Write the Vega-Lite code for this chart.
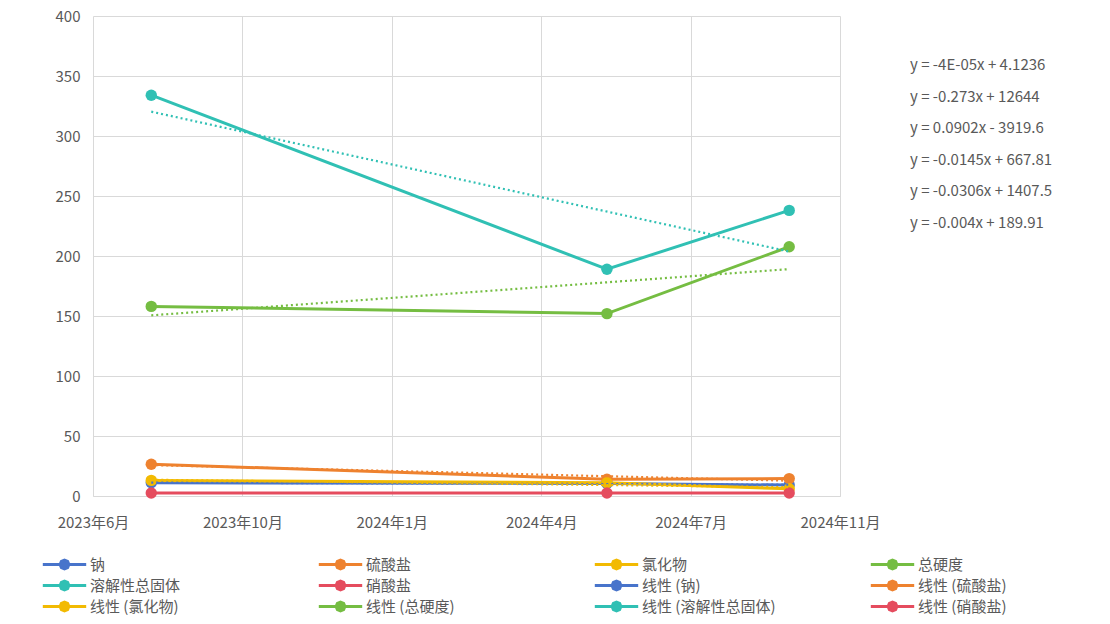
{
  "$schema": "https://vega.github.io/schema/vega-lite/v6.json",
  "width": 747,
  "height": 480,
  "autosize": {"type": "none"},
  "padding": {"left": 93, "top": 16, "right": 270, "bottom": 128},
  "background": "white",
  "title": {
    "text": ["y = -4E-05x + 4.1236", "y = -0.273x + 12644", "y = 0.0902x - 3919.6", "y = -0.0145x + 667.81", "y = -0.0306x + 1407.5", "y = -0.004x + 189.91"],
    "orient": "top", "anchor": "end", "frame": "group", "align": "left", "baseline": "top",
    "dx": 70, "dy": 222, "offset": 0, "lineHeight": 31.6,
    "font": "Noto Sans CJK SC", "fontSize": 15, "fontWeight": "normal", "color": "#595959"
  },
  "config": {
    "view": {"stroke": null},
    "font": "Noto Sans CJK SC",
    "axis": {"labelFont": "Noto Sans CJK SC", "labelFontSize": 15, "labelColor": "#595959", "gridColor": "#D9D9D9", "gridWidth": 1, "ticks": false, "title": null},
    "legend": {"labelFont": "Noto Sans CJK SC", "labelColor": "#595959", "title": null}
  },
  "data": {
    "values": [
      {"date": "2023-08-01", "series": "钠", "trend": "线性 (钠)", "value": 11},
      {"date": "2024-06-01", "series": "钠", "trend": "线性 (钠)", "value": 10.5},
      {"date": "2024-10-01", "series": "钠", "trend": "线性 (钠)", "value": 9.07},
      {"date": "2023-08-01", "series": "硫酸盐", "trend": "线性 (硫酸盐)", "value": 26.5},
      {"date": "2024-06-01", "series": "硫酸盐", "trend": "线性 (硫酸盐)", "value": 14},
      {"date": "2024-10-01", "series": "硫酸盐", "trend": "线性 (硫酸盐)", "value": 14.5},
      {"date": "2023-08-01", "series": "氯化物", "trend": "线性 (氯化物)", "value": 13},
      {"date": "2024-06-01", "series": "氯化物", "trend": "线性 (氯化物)", "value": 11},
      {"date": "2024-10-01", "series": "氯化物", "trend": "线性 (氯化物)", "value": 6},
      {"date": "2023-08-01", "series": "总硬度", "trend": "线性 (总硬度)", "value": 158},
      {"date": "2024-06-01", "series": "总硬度", "trend": "线性 (总硬度)", "value": 152},
      {"date": "2024-10-01", "series": "总硬度", "trend": "线性 (总硬度)", "value": 207.7},
      {"date": "2023-08-01", "series": "溶解性总固体", "trend": "线性 (溶解性总固体)", "value": 334},
      {"date": "2024-06-01", "series": "溶解性总固体", "trend": "线性 (溶解性总固体)", "value": 189},
      {"date": "2024-10-01", "series": "溶解性总固体", "trend": "线性 (溶解性总固体)", "value": 238},
      {"date": "2023-08-01", "series": "硝酸盐", "trend": "线性 (硝酸盐)", "value": 2.5},
      {"date": "2024-06-01", "series": "硝酸盐", "trend": "线性 (硝酸盐)", "value": 2.5},
      {"date": "2024-10-01", "series": "硝酸盐", "trend": "线性 (硝酸盐)", "value": 2.48}
    ]
  },
  "encoding": {
    "x": {
      "field": "date", "type": "temporal",
      "scale": {"type": "utc", "domain": [{"year": 2023, "month": 6, "date": 23, "utc": true}, {"year": 2024, "month": 11, "date": 4, "utc": true}]},
      "axis": {
        "values": [
          {"year": 2023, "month": 6, "date": 23, "utc": true},
          {"year": 2023, "month": 10, "date": 1, "utc": true},
          {"year": 2024, "month": 1, "date": 9, "utc": true},
          {"year": 2024, "month": 4, "date": 18, "utc": true},
          {"year": 2024, "month": 7, "date": 27, "utc": true},
          {"year": 2024, "month": 11, "date": 4, "utc": true}
        ],
        "format": "%Y年%-m月", "domainColor": "#D9D9D9", "labelPadding": 19, "labelFlush": false, "labelOverlap": false
      }
    },
    "y": {
      "field": "value", "type": "quantitative",
      "scale": {"domain": [0, 400], "nice": false},
      "axis": {"values": [0, 50, 100, 150, 200, 250, 300, 350, 400], "domain": false, "labelPadding": 13}
    }
  },
  "layer": [
    {
      "mark": {"type": "line", "strokeWidth": 3},
      "encoding": {
        "color": {
          "field": "series", "type": "nominal",
          "scale": {
            "domain": ["钠", "溶解性总固体", "线性 (氯化物)", "硫酸盐", "硝酸盐", "线性 (总硬度)", "氯化物", "线性 (钠)", "线性 (溶解性总固体)", "总硬度", "线性 (硫酸盐)", "线性 (硝酸盐)"],
            "range": ["#4874CB", "#30C0B4", "#F2BA02", "#EE822F", "#E54C5E", "#75BD42", "#F2BA02", "#4874CB", "#30C0B4", "#75BD42", "#EE822F", "#E54C5E"]
          },
          "legend": {
            "orient": "none", "legendX": -37, "legendY": 540, "columns": 4, "gridAlign": "all",
            "columnPadding": 88, "rowPadding": 0, "symbolSize": 196, "symbolStrokeWidth": 3, "labelOffset": 17,
            "symbolType": "M-3.1,0L3.1,0M0.63,0L0.445,0.445L0,0.63L-0.445,0.445L-0.63,0L-0.445,-0.445L0,-0.63L0.445,-0.445Z",
            "labelFontSize": 15, "labelLimit": 300
          }
        }
      }
    },
    {
      "mark": {"type": "point", "filled": true, "size": 130, "opacity": 1},
      "encoding": {
        "color": {"field": "series", "type": "nominal"}
      }
    },
    {
      "transform": [{"regression": "value", "on": "date", "groupby": ["trend"]}],
      "mark": {"type": "line", "strokeWidth": 2.2, "strokeDash": [2, 3]},
      "encoding": {
        "color": {"field": "trend", "type": "nominal"}
      }
    }
  ]
}
